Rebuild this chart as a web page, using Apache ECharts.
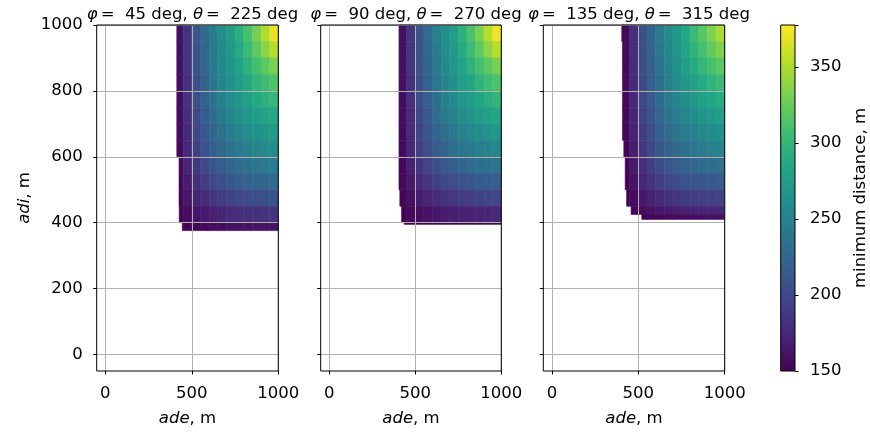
<!DOCTYPE html>
<html><head><meta charset="utf-8">
<script src="https://cdn.jsdelivr.net/npm/echarts@6/dist/echarts.min.js"></script>
<style>html,body{margin:0;padding:0;background:#fff}#c{width:870px;height:433px}</style>
</head><body><div id="c"></div>
<script>
// ---- data ----
const adeEdges = [400,450,500,550,600,650,700,750,800,850,900,950,1000];
const titles = [['45','225'],['90','270'],['135','315']];
const xTicks = [0,500,1000];
const yTicks = [0,200,400,600,800,1000];
const cbMin = 150, cbMax = 377.6, cbStep = 50;

const p1AdiEdges = [1000,950,900,850,800,750,700,650,600,550,500,450,400,376];
const p1LeftEdge = [413,413,413,413,413,413,413,413,426,426,426,427,445];
const p1Values = [
 [160,185,210,228,245,260,275,292,310,330,350,370],
 [160,185,208,226,243,258,272,288,303,320,337,352],
 [160,184,207,225,241,255,268,282,295,308,320,332],
 [159,183,205,222,238,252,264,276,287,297,306,314],
 [158,182,203,220,235,248,259,270,279,287,294,300],
 [158,180,200,217,231,243,253,262,270,277,282,287],
 [157,178,197,212,225,236,245,253,260,265,270,274],
 [156,176,193,207,218,228,236,243,248,253,257,260],
 [155,173,188,200,210,218,225,231,235,239,242,245],
 [154,169,181,191,199,206,212,217,221,224,226,228],
 [153,164,173,180,186,191,195,199,202,204,206,208],
 [152,158,163,167,171,174,177,179,181,183,184,185],
 [150,152,154,156,157,158,159,160,161,162,162,163]
];

const p2AdiEdges = [1000,950,900,850,800,750,700,650,600,550,500,450,400,395];
const p2LeftEdge = [405,405,405,405,405,405,405,405,405,405,410,420,436];
const p2Values = [
 [160,185,210,230,247,262,277,294,312,332,352,372],
 [160,185,208,228,244,259,273,289,305,321,338,353],
 [160,184,207,226,242,256,269,283,296,309,320,331],
 [159,183,205,223,238,252,264,276,286,296,305,313],
 [158,181,203,220,234,247,258,268,277,285,292,298],
 [158,179,199,216,230,241,251,260,267,274,279,284],
 [157,177,196,211,223,233,242,250,256,261,266,270],
 [156,175,191,204,215,224,232,238,243,247,251,254],
 [155,171,185,196,205,213,219,224,228,232,235,237],
 [154,166,177,186,193,199,204,208,212,215,217,219],
 [153,161,168,174,179,183,187,190,192,194,196,198],
 [151,155,159,162,165,167,169,171,172,173,174,175],
 [150,150,151,151,152,152,152,153,153,153,153,153]
];

const p3AdiEdges = [1000,950,900,850,800,750,700,650,600,550,500,450,425,410];
const p3LeftEdge = [404,408,408,408,408,408,408,416,424,424,432,458,520];
const p3Values = [
 [155,180,205,225,242,257,272,287,303,318,333,348],
 [155,180,204,223,240,255,269,283,297,310,322,334],
 [155,179,202,221,237,251,264,277,289,300,310,319],
 [155,178,200,218,234,247,259,270,280,289,297,304],
 [154,176,197,215,230,242,253,263,271,278,284,290],
 [154,174,194,211,225,236,246,254,261,267,272,276],
 [153,172,190,206,219,229,238,245,251,256,260,263],
 [153,169,186,200,212,221,229,235,240,244,247,250],
 [152,166,181,193,203,211,217,222,226,229,231,233],
 [151,162,174,184,192,198,203,207,210,212,214,215],
 [151,157,165,172,178,182,186,189,191,193,194,195],
 [null,153,157,161,164,167,169,171,172,173,174,175],
 [null,null,150,152,154,155,156,157,158,158,159,159]
];

// ---- styling ----
const viridis = ['#440154','#482475','#414487','#355f8d','#2a788e','#21918c','#22a884','#44bf70','#7ad151','#bddf26','#fde725'];
const FONT = 'DejaVu Sans';
const TICK_FS = 16.5;
const panels = [
  {adi:p1AdiEdges, left:p1LeftEdge, vals:p1Values},
  {adi:p2AdiEdges, left:p2LeftEdge, vals:p2Values},
  {adi:p3AdiEdges, left:p3LeftEdge, vals:p3Values}
];
const gridPos = [{left:96.7,width:181.6},{left:320.7,width:180.6},{left:543.3,width:181.4}];

function cells(p){
  const out = [];
  p.vals.forEach((row, r) => {
    row.forEach((v, c) => {
      if (v == null) return;
      const x0 = Math.max(adeEdges[c], p.left[r]);
      const x1 = adeEdges[c+1];
      if (x1 <= x0) return;
      out.push([x0, x1, p.adi[r+1], p.adi[r], v]);
    });
  });
  return out;
}

function renderCell(params, api){
  const a = api.coord([api.value(0), api.value(3)]);
  const b = api.coord([api.value(1), api.value(2)]);
  const col = api.visual('color');
  return {type:'rect', shape:{x:a[0], y:a[1], width:b[0]-a[0], height:b[1]-a[1]},
          style:{fill:col, stroke:col, lineWidth:0.6}};
}

const plain = v => String(v);
const titleRich = {
  i:{fontStyle:'italic', fontSize:16.5, fontFamily:FONT, color:'#000'},
  e:{fontSize:16.5, fontFamily:FONT, color:'#000', padding:[0,0,0,3]}
};
const grids = [], xAxes = [], yAxes = [], series = [], titleList = [];
panels.forEach((p, i) => {
  grids.push({left:gridPos[i].left, width:gridPos[i].width, top:25, height:346,
              show:true, backgroundColor:'transparent', borderColor:'#000', borderWidth:1, z:10});
  xAxes.push({type:'value', gridIndex:i, min:-50, max:1000, z:10,
    axisLine:{show:false, onZero:false}, splitLine:{show:false},
    axisTick:{show:true, length:3.5, customValues:xTicks, lineStyle:{color:'#000', width:1}},
    axisLabel:{customValues:xTicks, formatter:plain, color:'#000', fontSize:TICK_FS, fontFamily:FONT, margin:14},
    name:'{i|ade}, m', nameLocation:'middle', nameGap:39,
    nameTextStyle:{color:'#000', fontSize:TICK_FS, fontFamily:FONT,
      rich:{i:{fontStyle:'italic', fontSize:TICK_FS, fontFamily:FONT, color:'#000'}}}
  });
  const ya = {type:'value', gridIndex:i, min:-50, max:1000, z:10,
    axisLine:{show:false, onZero:false}, splitLine:{show:false},
    axisTick:{show:true, length:3.5, customValues:yTicks, lineStyle:{color:'#000', width:1}},
    axisLabel:{show:i===0, customValues:yTicks, formatter:plain, color:'#000', fontSize:TICK_FS, fontFamily:FONT, margin:14}
  };
  if (i === 0) {
    ya.name = '{i|adi}, m'; ya.nameLocation = 'middle'; ya.nameGap = 63; ya.nameRotate = 90;
    ya.nameTextStyle = {color:'#000', fontSize:TICK_FS, fontFamily:FONT,
      rich:{i:{fontStyle:'italic', fontSize:TICK_FS, fontFamily:FONT, color:'#000'}}};
  }
  yAxes.push(ya);
  series.push({type:'custom', xAxisIndex:i, yAxisIndex:i, renderItem:renderCell, data:cells(p),
               encode:{x:[0,1], y:[2,3]}, z:2, animation:false, silent:true});
  series.push({type:'line', xAxisIndex:i, yAxisIndex:i, data:[], z:4, animation:false, silent:true,
    markLine:{silent:true, symbol:['none','none'], z:4, animation:false, label:{show:false},
      lineStyle:{color:'#b0b0b0', width:1, type:'solid'},
      data:[...xTicks.map(v => ({xAxis:v})), ...yTicks.map(v => ({yAxis:v}))]}});
  titleList.push({text:'{i|\u03c6}{e|=}  ' + titles[i][0] + ' deg, {i|\u03b8}{e|=}  ' + titles[i][1] + ' deg',
    left:gridPos[i].left + gridPos[i].width/2, top:1, textAlign:'center',
    textStyle:{fontSize:16.5, fontWeight:'normal', color:'#000', fontFamily:FONT, rich:titleRich}});
});

// colorbar
grids.push({left:780.7, width:17, top:25, height:346});
xAxes.push({type:'value', gridIndex:3, min:0, max:1, show:false});
yAxes.push({type:'value', gridIndex:3, position:'right', min:cbMin, max:cbMax, interval:cbStep, z:10,
  axisLine:{show:false, onZero:false}, splitLine:{show:false},
  axisTick:{show:true, length:3.5, lineStyle:{color:'#000', width:1}},
  axisLabel:{color:'#000', fontSize:TICK_FS, fontFamily:FONT, margin:15,
    formatter: v => (v > cbMax - 1 ? '' : String(v))},
  name:'minimum distance, m', nameLocation:'middle', nameRotate:90, nameGap:57,
  nameTextStyle:{color:'#000', fontSize:TICK_FS, fontFamily:FONT}
});
series.push({type:'custom', xAxisIndex:3, yAxisIndex:3, data:[[0, cbMin, 1, cbMax]], silent:true, animation:false,
  renderItem:(params, api) => {
    const a = api.coord([api.value(0), api.value(3)]);
    const b = api.coord([api.value(2), api.value(1)]);
    return {type:'rect', shape:{x:a[0], y:a[1], width:b[0]-a[0], height:b[1]-a[1]},
      style:{fill:new echarts.graphic.LinearGradient(0,1,0,0,
        viridis.map((c, k) => ({offset:k/(viridis.length-1), color:c}))), stroke:'#000', lineWidth:1}};
  }});

const chart = echarts.init(document.getElementById('c'), null, {renderer:'canvas'});
chart.setOption({
  animation:false,
  backgroundColor:'#fff',
  title:titleList,
  grid:grids, xAxis:xAxes, yAxis:yAxes,
  visualMap:{type:'continuous', show:false, min:cbMin, max:cbMax, dimension:4, seriesIndex:[0,2,4],
    inRange:{color:viridis}},
  series:series
});
</script></body></html>
